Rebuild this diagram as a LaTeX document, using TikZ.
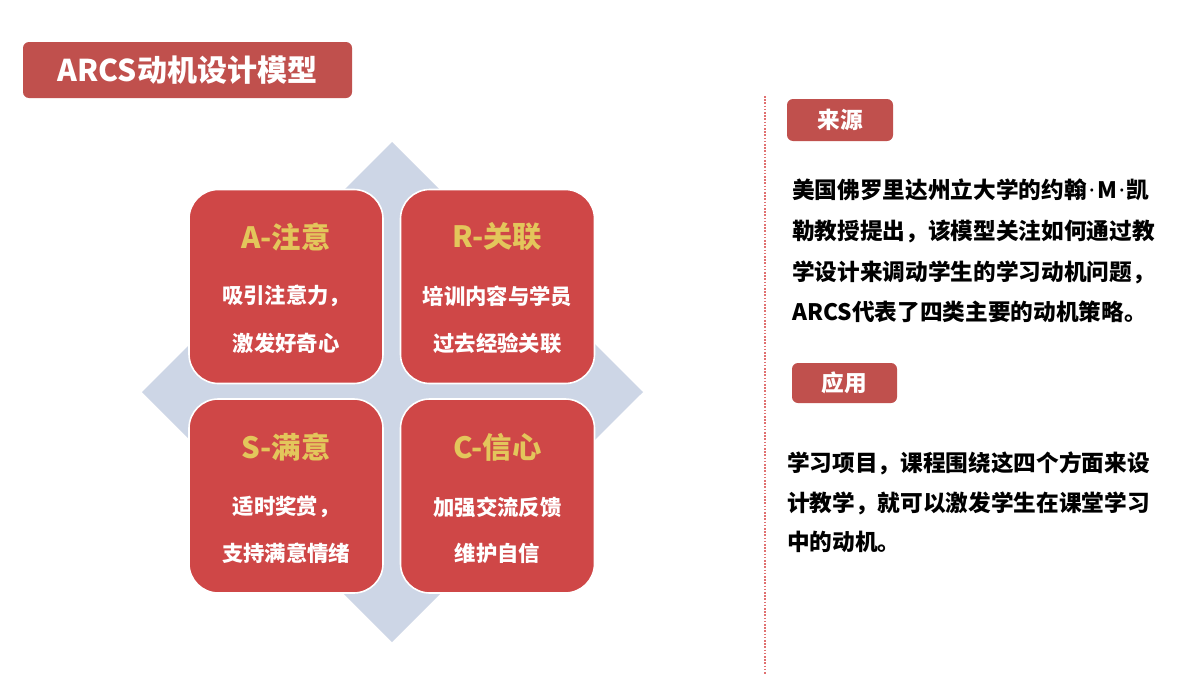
\documentclass[tikz,border=0pt]{standalone}
\usepackage{fontspec}
\setmainfont{Noto Sans CJK SC}
\newfontfamily\latinfont{Noto Sans}
\definecolor{titlered}{HTML}{C0504D}
\definecolor{boxred}{HTML}{CF4747}
\definecolor{gold}{HTML}{E3C65B}
\definecolor{diam}{HTML}{CDD6E6}
\definecolor{dotred}{HTML}{E07070}
\newcommand{\mdot}{\kern1.5pt{\latinfont\bfseries ·}\kern1.5pt}
\begin{document}
\begin{tikzpicture}[x=0.75pt,y=-0.75pt,
  tagbox/.style={fill=titlered,rounded corners=4.5pt,inner sep=0pt,text=white,font=\bfseries\fontsize{17}{20}\selectfont},
  quad/.style={fill=boxred,draw=white,line width=1.2pt,rounded corners=22pt,minimum width=145.5pt,minimum height=145.5pt,inner sep=0pt},
  quadtitle/.style={text=gold,font=\bfseries\fontsize{22}{25}\selectfont,inner sep=0pt},
  quadtext/.style={text=white,font=\bfseries\fontsize{16}{20}\selectfont,inner sep=0pt},
  para/.style={anchor=west,align=left,inner sep=0pt,text=black}]
\useasboundingbox (0,0) rectangle (1200,675);
\fill[white] (0,0) rectangle (1200,675);
% title
\node[tagbox,minimum width=246.75pt,minimum height=42pt,font=\bfseries\fontsize{22.5}{26}\selectfont] (title) at (187.5,70) {ARCS动机设计模型};
% diamond
\fill[diam] (392,142) -- (643,392) -- (392,642) -- (142,392) -- cycle;
% quadrants
\node[quad] (A) at (286,286.5) {};
\node[quad] (R) at (497.5,286.5) {};
\node[quad] (S) at (286,496) {};
\node[quad] (C) at (497.5,496) {};
\node[quadtitle] (At) at (286,237) {A-注意};
\node[quadtext] (A1) at (286,296) {吸引注意力，};
\node[quadtext] (A2) at (286,343) {激发好奇心};
\node[quadtitle] (Rt) at (497.5,237) {R-关联};
\node[quadtext] (R1) at (497.5,296) {培训内容与学员};
\node[quadtext] (R2) at (497.5,343) {过去经验关联};
\node[quadtitle] (St) at (286,447) {S-满意};
\node[quadtext] (S1) at (286,507) {适时奖赏，};
\node[quadtext] (S2) at (286,553) {支持满意情绪};
\node[quadtitle] (Ct) at (497.5,447) {C-信心};
\node[quadtext] (C1) at (497.5,507) {加强交流反馈};
\node[quadtext] (C2) at (497.5,553) {维护自信};
% divider
\coordinate (dtop) at (765,96);
\coordinate (dbot) at (765,675);
\draw[dotred,line width=0.9pt,dash pattern=on 1.2pt off 1.2pt] (dtop) -- (dbot);
% right side
\node[tagbox,minimum width=79.5pt,minimum height=31.5pt] (src) at (840,120) {来源};
\node[para,font=\bfseries\fontsize{17}{30.5}\selectfont] (p1) at (792,251) {美国佛罗里达州立大学的约翰\mdot M\mdot 凯\\勒教授提出，该模型关注如何通过教\\学设计来调动学生的学习动机问题，\\ARCS代表了四类主要的动机策略。};
\node[tagbox,minimum width=78.75pt,minimum height=30pt] (app) at (844.5,383) {应用};
\node[para,font=\bfseries\fontsize{17}{29.6}\selectfont] (p2) at (787,502.5) {学习项目，课程围绕这四个方面来设\\计教学，就可以激发学生在课堂学习\\中的动机。};
\end{tikzpicture}
\end{document}
